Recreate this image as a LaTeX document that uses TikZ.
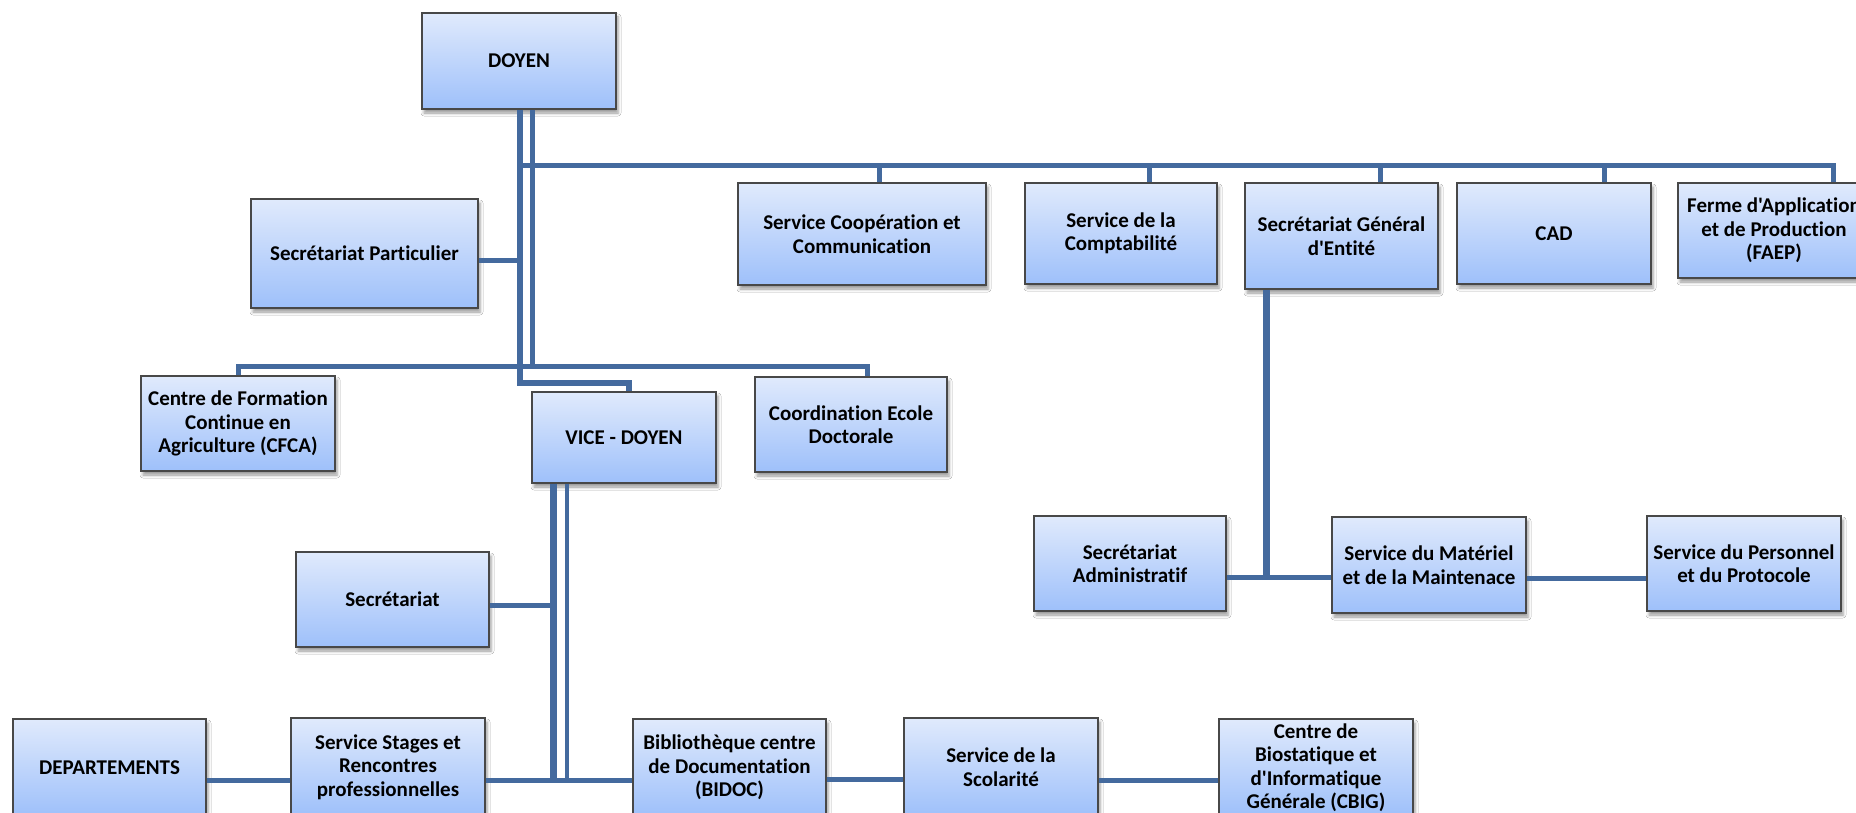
\documentclass[tikz,border=0pt]{standalone}
\usepackage{fontspec}
\setmainfont{Carlito}[Ligatures={TeXOff,NoCommon}]
\usetikzlibrary{shadows.blur}
\definecolor{connc}{RGB}{68,106,158}
\definecolor{boxtop}{RGB}{224,234,252}
\definecolor{boxbot}{RGB}{158,192,250}
\definecolor{boxline}{RGB}{72,72,72}
\begin{document}
\begin{tikzpicture}[x=1pt,y=-1pt,
  orgbox/.style={draw=boxline, line width=1.1pt, top color=boxtop, bottom color=boxbot,
    inner sep=0pt, align=center, font=\bfseries\fontsize{21}{23.5}\selectfont,
    blur shadow={shadow xshift=2pt, shadow yshift=-4pt, shadow blur radius=3pt, shadow opacity=40}},
  link/.style={draw=connc, line width=5pt},
  bx/.style n args={2}{orgbox, minimum width=#1pt, minimum height=#2pt}
]
\useasboundingbox (0,0) rectangle (1856,813);
\clip (0,0) rectangle (1856,813);
\fill[white] (0,0) rectangle (1856,813);

% nodes
\node[bx={194}{96}]  (doyen)     at (519,61)      {DOYEN};
\node[bx={227}{109}] (secpart)   at (364.5,253.5) {Secrétariat Particulier};
\node[bx={194}{95}]  (cfca)      at (238,423.5)   {Centre de Formation\\Continue en\\Agriculture (CFCA)};
\node[bx={184}{91}]  (vice)      at (624,437.5)   {VICE - DOYEN};
\node[bx={192}{95}]  (coord)     at (851,424.5)   {Coordination Ecole\\Doctorale};
\node[bx={248}{102}] (coop)      at (862,234)     {Service Coopération et\\Communication};
\node[bx={192}{101}] (compta)    at (1121,233.5)  {Service de la\\Comptabilité};
\node[bx={193}{106}] (secgen)    at (1341.5,236)  {Secrétariat Général\\d'Entité};
\node[bx={194}{101}] (cad)       at (1554,233.5)  {CAD};
\node[bx={192}{95}]  (faep)      at (1774,230.5)  {Ferme d'Application\\et de Production\\(FAEP)};
\node[bx={192}{95}]  (secadmin)  at (1130,563.5)  {Secrétariat\\Administratif};
\node[bx={194}{96}]  (materiel)  at (1429,565)    {Service du Matériel\\et de la Maintenace};
\node[bx={194}{95}]  (personnel) at (1744,563.5)  {Service du Personnel\\et du Protocole};
\node[bx={193}{95}]  (secret)    at (392.5,599.5) {Secrétariat};
\node[bx={193}{97}]  (depart)    at (109.5,767.5) {DEPARTEMENTS};
\node[bx={194}{98}]  (stages)    at (388,767)     {Service Stages et\\Rencontres\\professionnelles};
\node[bx={193}{97}]  (bidoc)     at (729.5,767.5) {Bibliothèque centre\\de Documentation\\(BIDOC)};
\node[bx={194}{98}]  (scol)      at (1001,767)    {Service de la\\Scolarité};
\node[bx={194}{97}]  (cbig)      at (1316,767.5)  {Centre de\\Biostatique et\\d'Informatique\\Générale (CBIG)};

% connectors from DOYEN
\coordinate (j1) at (520,383);
\coordinate (t0) at (517,166);
\draw[link, line width=6pt] ([xshift=1pt]doyen.south) -- (j1) -| ([xshift=5pt]vice.north);
\draw[link] ([xshift=13pt]doyen.south) -- ++(0,258);
\draw[link] (cfca.north) -- ++(0,-9) -| ([xshift=16pt]coord.north);
\draw[link] ([yshift=-7.5pt]secpart.east) -- ++(42,0);
\draw[link] (t0) -| ([xshift=59pt]faep.north);
\draw[link] ([xshift=17pt]coop.north) -- ++(0,-17);
\draw[link] ([xshift=28pt]compta.north) -- ++(0,-17);
\draw[link] ([xshift=38.5pt]secgen.north) -- ++(0,-17);
\draw[link] ([xshift=50pt]cad.north) -- ++(0,-17);

% Secretariat general branch
\draw[link, line width=7pt] ([xshift=-75.5pt]secgen.south) -- ++(0,289);
\draw[link] ([yshift=-13.5pt]secadmin.east) -- ([yshift=-12pt]materiel.west);
\draw[link] ([yshift=-13pt]materiel.east) -- ([yshift=-14.5pt]personnel.west);

% VICE-DOYEN branch
\draw[link, line width=7pt] ([xshift=-71pt]vice.south) -- ++(0,298);
\draw[link, line width=4.5pt] ([xshift=-57pt]vice.south) -- ++(0,298);
\draw[link] ([yshift=-5.5pt]secret.east) -- ++(64,0);
\draw[link] ([yshift=-13pt]stages.east) -- ([yshift=-12.5pt]bidoc.west);
\draw[link] ([yshift=-12.5pt]depart.east) -- ([yshift=-13pt]stages.west);
\draw[link] ([yshift=-11.5pt]bidoc.east) -- ([yshift=-12pt]scol.west);
\draw[link] ([yshift=-13pt]scol.east) -- ([yshift=-12.5pt]cbig.west);
\end{tikzpicture}
\end{document}
